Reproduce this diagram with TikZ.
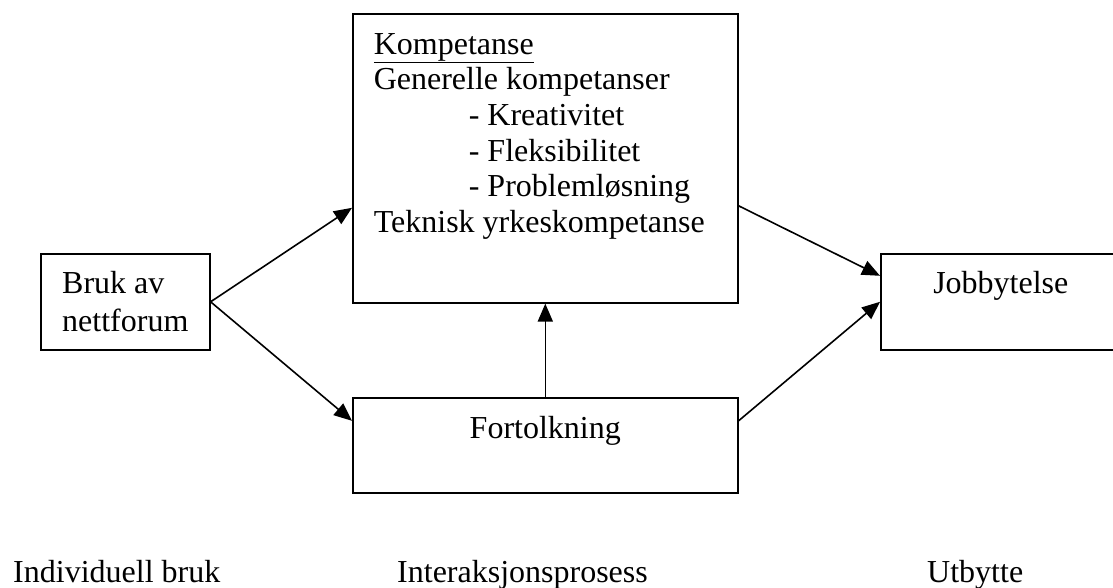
\documentclass[tikz,border=0pt]{standalone}
\usepackage{fontspec}
\setmainfont{Liberation Serif}
\usepackage{tikz}
\usetikzlibrary{positioning,calc,arrows.meta}

\begin{document}
\begin{tikzpicture}[x=1pt,y=-1pt,
    box/.style={draw, line width=1.6pt, inner sep=0pt, anchor=north west},
    pil/.style={line width=1.6pt, -{Triangle[length=18pt,width=15pt]}},
    font=\fontsize{32}{35.6}\selectfont]
    \useasboundingbox (0,0) rectangle (1113,588);

    % Boxes
    \node[box, minimum width=169pt, minimum height=96pt, align=left] (bruk) at (40,253) {Bruk av\\[2.5pt]nettforum};
    \node[box, inner xsep=21pt, inner ysep=19.5pt] (komp) at (352,13) {\parbox[t][250pt][t]{343pt}{%
        \underline{Kompetanse}\\
        Generelle kompetanser\\
        \hspace*{95pt}- Kreativitet\\
        \hspace*{95pt}- Fleksibilitet\\
        \hspace*{95pt}- Problemløsning\\
        Teknisk yrkeskompetanse}};
    \node[box, minimum width=385pt, text height=41pt, text depth=54pt] (tolk) at (352,397) {Fortolkning};
    \node[box, minimum width=240pt, text height=40pt, text depth=56pt] (jobb) at (880,253) {Jobbytelse};

    % Levels
    \node[anchor=base west, inner sep=0pt] (individ) at (13,582) {Individuell bruk};
    \node[anchor=base west, inner sep=0pt] (prosess) at (397,582) {Interaksjonsprosess};
    \node[anchor=base west, inner sep=0pt] (utbytte) at (927,582) {Utbytte};

    % Arrows
    \draw[pil] (bruk.east) -- ([yshift=-49.5pt]komp.west);
    \draw[pil] (bruk.east) -- ([yshift=24.5pt]tolk.west);
    \draw[pil] (tolk.north) -- (komp.south);
    \draw[pil] ([yshift=-47.5pt]komp.east) -- ([yshift=26pt]jobb.west);
    \draw[pil] ([yshift=24.5pt]tolk.east) -- (jobb.west);

\end{tikzpicture}
\end{document}
